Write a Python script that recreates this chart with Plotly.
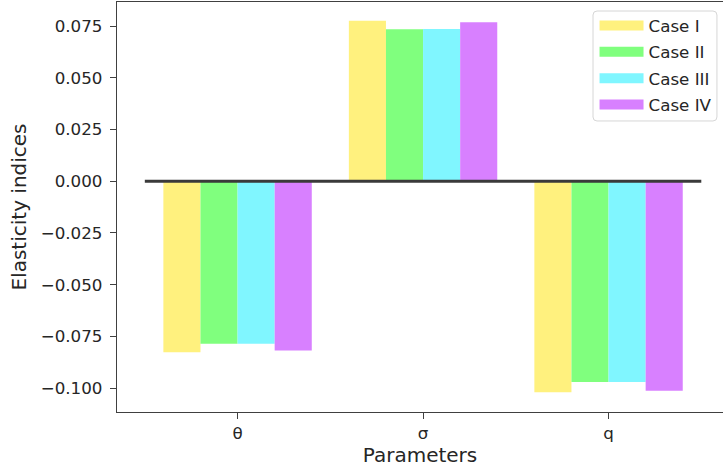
import plotly.graph_objects as go

params = ["θ", "σ", "q"]
case_names = ["Case I", "Case II", "Case III", "Case IV"]
case_I = [-0.0826, 0.0776, -0.1019]
case_II = [-0.0785, 0.0734, -0.0970]
case_III = [-0.0785, 0.0735, -0.0970]
case_IV = [-0.0818, 0.0768, -0.1012]
colors = ["#FFF17E", "#80FF7E", "#80F6FF", "#D880FF"]
ytick_vals = [0.075, 0.050, 0.025, 0.000, -0.025, -0.050, -0.075, -0.100]
ytick_text = ["0.075", "0.050", "0.025", "0.000", "−0.025", "−0.050", "−0.075", "−0.100"]

xpos = list(range(len(params)))
series = [case_I, case_II, case_III, case_IV]
FONT = "DejaVu Sans"
FS = 16.7

fig = go.Figure()
for name, vals, col in zip(case_names, series, colors):
    fig.add_trace(go.Bar(x=xpos, y=vals, name=name, marker=dict(color=col, line=dict(width=0)),
                         showlegend=False))
# zero line
fig.add_trace(go.Scatter(x=[-0.5, 2.5], y=[0, 0], mode="lines",
                         line=dict(color="#3a3a3a", width=3), showlegend=False, hoverinfo="skip"))
# legend entries
for name, col in zip(case_names, colors):
    fig.add_trace(go.Scatter(x=[None], y=[None], mode="lines", name=name, legendgroup=name,
                             line=dict(color=col, width=11)))

# legend frame (rounded box like matplotlib's fancybox)
x0, x1, y0, y1 = 0.7855, 0.990, 0.7098, 0.978
rx, ry = 4 / 606, 4 / 410
frame_path = (f"M {x0+rx},{y1} L {x1-rx},{y1} Q {x1},{y1} {x1},{y1-ry} "
              f"L {x1},{y0+ry} Q {x1},{y0} {x1-rx},{y0} L {x0+rx},{y0} "
              f"Q {x0},{y0} {x0},{y0+ry} L {x0},{y1-ry} Q {x0},{y1} {x0+rx},{y1} Z")

fig.update_layout(
    width=723, height=472,
    margin=dict(l=117, r=0, t=2, b=60),
    paper_bgcolor="white", plot_bgcolor="white",
    barmode="group", bargap=0.2, bargroupgap=0,
    font=dict(family=FONT, size=FS, color="#262626"),
    legend=dict(x=0.788, y=0.985, xanchor="left", yanchor="top",
                borderwidth=0, bgcolor="rgba(0,0,0,0)",
                font=dict(family=FONT, size=FS, color="#262626"),
                tracegroupgap=1.6, itemwidth=44),
    shapes=[dict(type="path", path=frame_path, xref="paper", yref="paper",
                 line=dict(color="#d6d6d6", width=1), fillcolor="white", layer="above")],
    xaxis=dict(range=[-0.65, 2.617], tickvals=xpos, ticktext=params,
               showgrid=False, zeroline=False, showline=True, mirror=True,
               linecolor="#404040", linewidth=1.4, ticks="outside", ticklen=6,
               tickcolor="#404040", tickwidth=1.3,
               title=dict(text="Parameters", standoff=5)),
    yaxis=dict(range=[-0.1115, 0.0866], tickvals=ytick_vals, ticktext=ytick_text,
               showgrid=False, zeroline=False, showline=True, mirror=False,
               linecolor="#404040", linewidth=1.4, ticks="outside", ticklen=6,
               tickcolor="#404040", tickwidth=1.3, ticklabelstandoff=4,
               title=dict(text="Elasticity indices", standoff=8)),
)
fig.write_html("out.html", config={"displayModeBar": False},
               post_script="document.body.style.margin='0px';")
